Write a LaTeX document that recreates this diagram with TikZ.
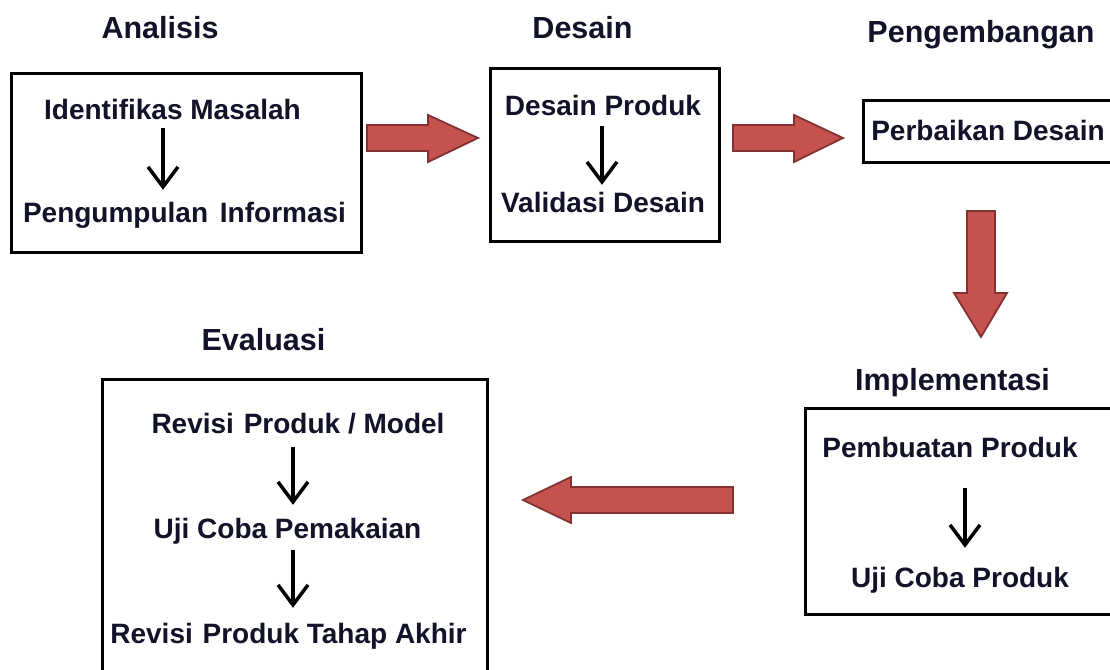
\documentclass[tikz,border=0pt]{standalone}
\usepackage{fontspec}
\setmainfont{Liberation Sans}
\usetikzlibrary{arrows.meta}
\definecolor{ink}{RGB}{18,18,40}
\definecolor{arrowfill}{RGB}{197,82,79}
\definecolor{arrowedge}{RGB}{130,50,48}
\tikzset{
  title/.style={anchor=base, inner sep=0pt, text=ink,
    font=\fontsize{30.5}{36}\selectfont\bfseries},
  item/.style={anchor=base, inner sep=5pt, text height=22pt, text depth=6pt,
    text=ink, font=\fontsize{28}{33}\selectfont\bfseries},
  stagebox/.style={draw=black, line width=3pt, inner sep=0pt},
  flow/.style={line width=3.5pt, -{Straight Barb[length=20pt,width=30pt]}},
  blockarrow/.style={fill=arrowfill, draw=arrowedge, line width=1.8pt, line join=miter}
}
\begin{document}
\begin{tikzpicture}[x=1pt,y=-1pt]
  % canvas
  \clip (0,0) rectangle (1110,669);
  \fill[white] (0,0) rectangle (1110,669);

  % stage boxes
  \node[stagebox, minimum width=350pt, minimum height=179pt] (anbox)  at (186,163) {};
  \node[stagebox, minimum width=229pt, minimum height=173pt] (desbox) at (605,155) {};
  \node[stagebox, minimum width=268pt, minimum height=62pt]  (pgbox)  at (997,131.5) {};
  \node[stagebox, minimum width=326pt, minimum height=206pt] (imbox)  at (968,511) {};
  \node[stagebox, minimum width=385pt, minimum height=322pt] (evbox)  at (295,540) {};

  % stage titles
  \node[title] (tAn)  at (160,39)   {Analisis};
  \node[title] (tDes) at (582.5,38) {Desain};
  \node[title] (tPg)  at (981,43)   {Pengembangan};
  \node[title] (tEv)  at (263.5,350){Evaluasi};
  \node[title] (tIm)  at (952.5,390){Implementasi};

  % Analisis
  \node[item] (an1) at (172.5,119) {Identifikas Masalah};
  \node[item] (an2) at (184.5,222) {Pengumpulan\hspace{4pt} Informasi};
  \coordinate (cAn) at (163,0);
  \draw[flow, shorten <=-2pt, shorten >=5pt] (an1.south -| cAn) -- (an2.north -| cAn);

  % Desain
  \node[item] (de1) at (603,115) {Desain Produk};
  \node[item] (de2) at (603,212) {Validasi Desain};
  \coordinate (cDe) at (602,0);
  \draw[flow] (de1.south -| cDe) -- (de2.north -| cDe);

  % Pengembangan
  \node[item] (pg1) at (988,140) {Perbaikan Desain};

  % Implementasi
  \node[item] (im1) at (950,457) {Pembuatan Produk};
  \node[item] (im2) at (960,587) {Uji Coba Produk};
  \coordinate (cIm) at (965,0);
  \draw[flow, shorten <=20pt, shorten >=12pt] (im1.south -| cIm) -- (im2.north -| cIm);

  % Evaluasi
  \node[item] (ev1) at (298,433)   {Revisi\hspace{2pt} Produk / Model};
  \node[item] (ev2) at (287.5,538) {Uji Coba Pemakaian};
  \node[item] (ev3) at (288.5,643) {Revisi\hspace{2pt} Produk Tahap Akhir};
  \coordinate (cEv) at (293,0);
  \draw[flow, shorten <=3pt, shorten >=6pt] (ev1.south -| cEv) -- (ev2.north -| cEv);
  \draw[flow, shorten <=1pt, shorten >=8pt] (ev2.south -| cEv) -- (ev3.north -| cEv);

  % block arrows between the stages
  \filldraw[blockarrow] (367,125) -- (428,125) -- (428,115) -- (478,138)
    -- (428,162) -- (428,151) -- (367,151) -- cycle;
  \filldraw[blockarrow] (733,125) -- (794,125) -- (794,115) -- (843,138)
    -- (794,162) -- (794,151) -- (733,151) -- cycle;
  \filldraw[blockarrow] (967,211) -- (995,211) -- (995,293) -- (1007,293)
    -- (981,337) -- (954,293) -- (967,293) -- cycle;
  \filldraw[blockarrow] (733,487) -- (571,487) -- (571,477) -- (523,500)
    -- (571,523) -- (571,513) -- (733,513) -- cycle;
\end{tikzpicture}
\end{document}
